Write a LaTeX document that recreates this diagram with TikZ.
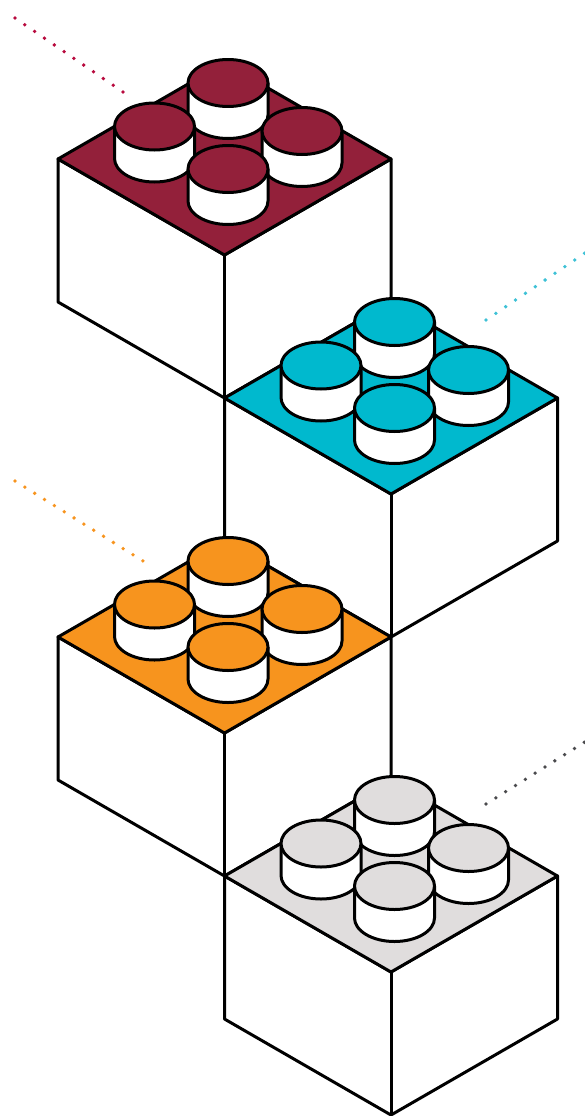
\documentclass[tikz,border=0pt]{standalone}
\definecolor{brickred}{HTML}{93203A}
\definecolor{brickcyan}{HTML}{00B9CE}
\definecolor{brickorange}{HTML}{F7941E}
\definecolor{brickgrey}{HTML}{E0DDDD}
\definecolor{dotred}{HTML}{B80A3E}
\definecolor{dotcyan}{HTML}{3EC1D6}
\definecolor{dotorange}{HTML}{F7941E}
\definecolor{dotgrey}{HTML}{4A4A4D}
\tikzset{
  edge/.style={line width=3pt, line join=round},
  dots/.style={line width=3.8pt, line cap=round, dash pattern=on 0pt off #1},
}
\begin{document}
\begin{tikzpicture}[x=1pt,y=-1pt]
  \useasboundingbox (0,0) rectangle (584,1116);
  % dotted leaders
  \draw[dots=11.9pt, dotred] (15,18) -- (123,92);
  \draw[dots=11.9pt, dotcyan] (486,320) -- (588,251);
  \draw[dots=11.6pt, dotorange] (15,481) -- (143,561);
  \draw[dots=11.6pt, dotgrey] (486,804) -- (588,740);
  % bricks, back to front
  \foreach \bx/\by/\col in {58/159/brickred, 224.5/398/brickcyan, 58/637/brickorange, 224.5/876/brickgrey}{
    \begin{scope}[shift={(\bx,\by)}]
      \draw[edge, fill=white] (0,0) -- (0,143) -- (166.5,239) -- (333,143) -- (333,0) -- (166.5,96) -- cycle;
      \draw[edge] (166.5,96) -- (166.5,239);
      \draw[edge, fill=\col] (0,0) -- (166.5,-96) -- (333,0) -- (166.5,96) -- cycle;
      \foreach \sx/\sy in {170/-44, 96.5/-0.5, 244/4, 170/42}{
        \draw[edge, fill=white] (\sx-40,\sy) -- (\sx-40,\sy-32) -- (\sx+40,\sy-32) -- (\sx+40,\sy)
          arc[start angle=0, end angle=180, x radius=40, y radius=23.5] -- cycle;
        \draw[edge, fill=\col] (\sx,\sy-32) ellipse [x radius=40, y radius=23.5];
      }
    \end{scope}
  }
\end{tikzpicture}
\end{document}
